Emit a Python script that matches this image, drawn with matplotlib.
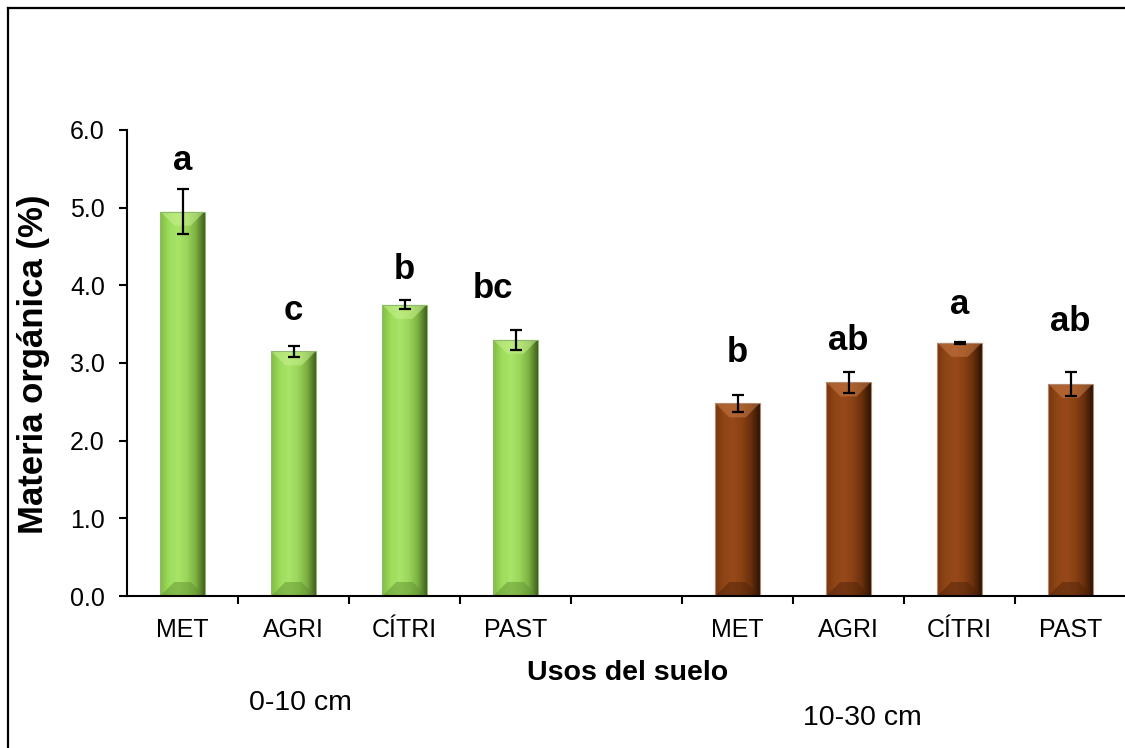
import numpy as np
import matplotlib
matplotlib.use("Agg")
import matplotlib.pyplot as plt
from matplotlib.colors import LinearSegmentedColormap
from matplotlib.patches import Polygon
from matplotlib.lines import Line2D

plt.rcParams['font.family'] = ['Liberation Sans', 'DejaVu Sans']

# ---- data ----
categories = ["MET", "AGRI", "CÍTRI", "PAST"]
depth_labels = ["0-10 cm", "10-30 cm"]
mo_0_10 = [4.95, 3.15, 3.75, 3.30]
err_0_10 = [0.29, 0.07, 0.06, 0.13]
mo_10_30 = [2.48, 2.75, 3.26, 2.73]
err_10_30 = [0.11, 0.13, 0.01, 0.15]
letters_0_10 = ["a", "c", "b", "bc"]
letters_10_30 = ["b", "ab", "a", "ab"]
letter_y_0_10 = [5.61, 3.68, 4.20, 3.96]
letter_y_10_30 = [3.13, 3.29, 3.75, 3.53]
letter_dx_0_10 = [0.0, 0.0, 0.0, -0.2]
letter_dx_10_30 = [0.0, 0.0, 0.0, 0.0]
yticks = [0.0, 1.0, 2.0, 3.0, 4.0, 5.0, 6.0]

W, H = 1125, 748
fig = plt.figure(figsize=(W / 100, H / 100), dpi=100)
ax = fig.add_axes([127 / W, (H - 596) / H, (1126 - 127) / W, (596 - 130) / H])

# outer frame (top and left only visible)
fig.add_artist(Line2D([8 / W, 8 / W], [0, 1 - 8 / H], transform=fig.transFigure, color='black', lw=1.6))
fig.add_artist(Line2D([8 / W, 1], [1 - 8 / H, 1 - 8 / H], transform=fig.transFigure, color='black', lw=1.6))

x_green = np.arange(4) + 0.5
x_brown = np.arange(5, 9) + 0.5
bw = 0.4

ax.set_xlim(0, 9)
ax.set_ylim(0, 6)

green_cmap = LinearSegmentedColormap.from_list("g", ["#82bb45", "#9ddc5b", "#a8e468", "#9ad65a", "#7cb042", "#3f5e1c"])
brown_cmap = LinearSegmentedColormap.from_list("b", ["#7a3510", "#8f4515", "#98491a", "#8a4214", "#6a300c", "#2e1304"])


def draw_bars(xs, vals, errs, cmap, topcol, botcol, edge):
    bars = ax.bar(xs, vals, width=bw, color='none', edgecolor=edge, linewidth=0.8, zorder=2)
    grad = np.linspace(0, 1, 256).reshape(1, -1)
    ppu_y = ax.bbox.height / 6.0
    dy = 14 / ppu_y
    ppu_x = ax.bbox.width / 9.0
    dx = 14 / ppu_x
    for b in bars:
        x0, w, h = b.get_x(), b.get_width(), b.get_height()
        im = ax.imshow(grad, cmap=cmap, aspect='auto', extent=(x0, x0 + w, 0, h), zorder=1.5)
        im.set_clip_path(b)
        top = Polygon([(x0, h), (x0 + w, h), (x0 + w - dx, h - dy), (x0 + dx, h - dy)],
                      closed=True, facecolor=topcol, edgecolor='none', alpha=0.55, zorder=1.8)
        ax.add_patch(top)
        bot = Polygon([(x0, 0), (x0 + w, 0), (x0 + w - dx, dy), (x0 + dx, dy)],
                      closed=True, facecolor=botcol, edgecolor='none', alpha=0.45, zorder=1.8)
        ax.add_patch(bot)
    ax.errorbar(xs, vals, yerr=errs, fmt='none', ecolor='black', elinewidth=1.6,
                capsize=4.5, capthick=1.6, zorder=3)


draw_bars(x_green, mo_0_10, err_0_10, green_cmap, "#c8f08f", "#5b8a2c", "#8fb870")
draw_bars(x_brown, mo_10_30, err_10_30, brown_cmap, "#c77a45", "#4a2008", "#b08a70")

for x, dxl, y, t in zip(x_green, letter_dx_0_10, letter_y_0_10, letters_0_10):
    ax.text(x + dxl, y, t, ha='center', va='center', fontsize=25, fontweight='bold', zorder=4)
for x, dxl, y, t in zip(x_brown, letter_dx_10_30, letter_y_10_30, letters_10_30):
    ax.text(x + dxl, y, t, ha='center', va='center', fontsize=25, fontweight='bold', zorder=4)

ax.set_aspect('auto')
ax.set_xlim(0, 9)
ax.set_ylim(0, 6)

for s in ['top', 'right']:
    ax.spines[s].set_visible(False)
for s in ['left', 'bottom']:
    ax.spines[s].set_linewidth(1.5)
    ax.spines[s].set_color('black')

ax.set_yticks(yticks)
ax.set_yticklabels([f"{v:.1f}" for v in yticks])
ax.tick_params(axis='y', direction='out', length=6, width=1.5, labelsize=18, pad=10)

ax.set_xticks(np.arange(1, 9))
ax.set_xticklabels([])
ax.set_xticks(list(x_green) + list(x_brown), minor=True)
ax.set_xticklabels(categories + categories, minor=True)
ax.tick_params(axis='x', which='major', direction='out', length=6, width=1.5)
ax.tick_params(axis='x', which='minor', length=0, labelsize=18, pad=16)

fig.text(34 / W, 1 - 364 / H, "Materia orgánica (%)", rotation=90, ha='center', va='center',
         fontsize=25, fontweight='bold')
fig.text(628 / W, 1 - 673 / H, "Usos del suelo", ha='center', va='center', fontsize=20.5, fontweight='bold')
fig.text(300 / W, 1 - 703 / H, depth_labels[0], ha='center', va='center', fontsize=20.5)
fig.text(862 / W, 1 - 718 / H, depth_labels[1], ha='center', va='center', fontsize=20.5)

fig.savefig("out.png", dpi=100)
